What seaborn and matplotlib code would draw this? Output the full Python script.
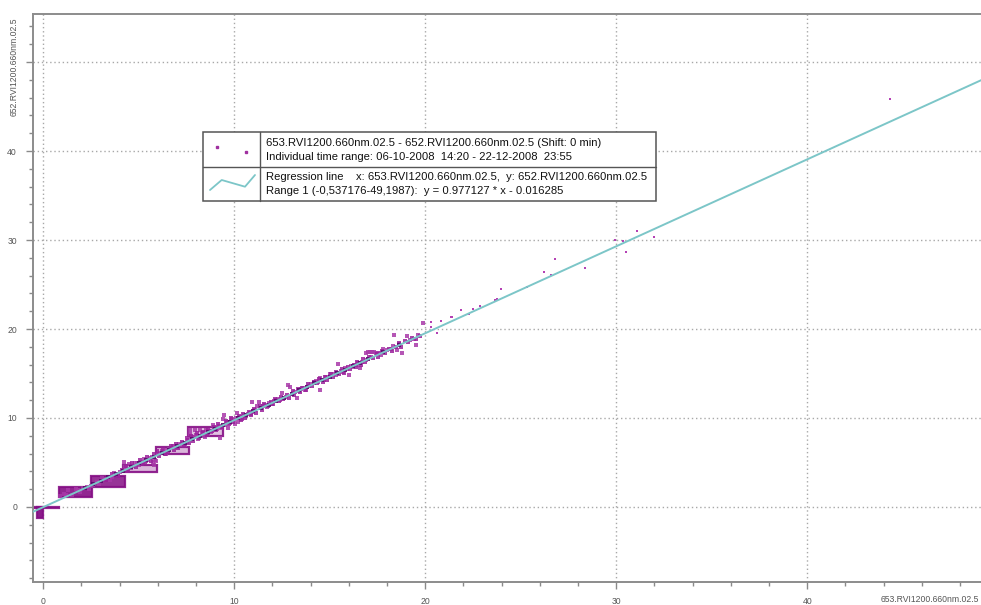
import matplotlib
matplotlib.use("Agg")
import matplotlib.pyplot as plt
from matplotlib.patches import Rectangle
from matplotlib.lines import Line2D
from matplotlib.ticker import MultipleLocator, FixedLocator
import seaborn as sns
import pandas as pd

# ---------------- data ----------------
x_name = "653.RVI1200.660nm.02.5"
y_name = "652.RVI1200.660nm.02.5"

slope = 0.977127
intercept = -0.016285
range_lo = -0.537176
range_hi = 49.1987

# quantised "staircase" blocks of dense points (left, right, low, high)
step_left = [-0.50, -0.35, 0.80, 2.50, 4.20, 5.90, 7.60]
step_right = [0.85, 0.00, 2.55, 4.30, 5.95, 7.65, 9.40]
step_low = [-0.08, -1.20, 1.10, 2.25, 3.90, 6.00, 8.00]
step_high = [0.05, 0.00, 2.30, 3.45, 4.70, 6.75, 9.00]
step_alpha = [0.95, 0.95, 0.9, 0.85, 0.3, 0.3, 0.25]

pts_x = [
    0.9, 1.1, 1.3, 1.5, 1.7, 1.9, 2.1, 2.3, 2.5, 1.2, 1.8, 2.4,
    2.6, 2.8, 3.0, 3.2, 3.4, 3.6, 3.8, 4.0, 4.2, 3.1, 3.5, 3.9, 2.9, 3.7,
    4.25, 4.3, 4.4, 4.5, 4.7, 4.9, 5.0, 5.2, 5.3, 5.5, 5.6, 5.7, 5.8, 5.9,
    4.6, 5.1, 5.4, 5.75, 5.85, 4.8,
    6.0, 6.1, 6.3, 6.4, 6.6, 6.7, 6.9, 7.0, 7.2, 7.3, 7.5, 7.6, 6.2, 6.8,
    7.1, 7.4, 6.5,
    7.7, 7.7, 7.8, 7.9, 8.0, 8.1, 8.3, 8.4, 8.5, 8.7, 8.8, 9.0, 9.1, 9.2,
    9.3, 8.2, 8.6, 8.9, 9.27, 8.45, 7.95,
    9.4, 9.45, 9.5, 9.6, 9.7, 9.8, 9.9, 10.0, 10.1, 10.2, 10.3, 10.5, 10.6,
    10.7, 10.8, 10.9, 11.0, 9.65, 10.15, 10.4, 10.05,
    11.1, 11.2, 11.4, 11.5, 11.6, 11.8, 12.0, 12.1, 12.3, 12.4, 12.5, 12.7,
    12.8, 12.9, 13.1, 13.2, 13.3, 13.5, 13.6, 13.8, 13.9, 11.3, 11.7, 12.2,
    12.6, 13.0, 13.4, 13.7, 10.95,
    14.0, 14.2, 14.3, 14.5, 14.5, 14.7, 14.8, 15.0, 15.0, 15.2, 15.4, 15.43,
    15.6, 15.7, 15.9, 16.0, 16.1, 16.3, 16.4, 16.6, 16.7, 16.9, 14.4, 15.3,
    15.8, 16.2, 16.5,
    16.9, 17.0, 17.1, 17.2, 17.3, 17.4, 17.5, 17.6, 17.8, 18.0, 18.2, 18.3,
    18.34, 18.5, 18.8, 19.04, 19.2, 19.4, 19.53, 19.63, 19.86, 17.15, 17.7,
    18.6,
]
pts_y = [
    1.2, 1.5, 1.9, 1.4, 2.0, 1.7, 2.1, 2.2, 2.4, 1.3, 1.9, 2.0,
    2.5, 2.8, 2.9, 3.1, 3.4, 3.4, 3.7, 3.9, 4.1, 3.3, 3.0, 3.6, 2.6, 3.8,
    5.0, 4.5, 4.3, 4.8, 4.6, 4.9, 4.7, 5.1, 5.4, 5.3, 5.5, 5.6, 4.7, 5.2,
    4.4, 5.0, 5.2, 5.0, 5.3, 4.9,
    5.9, 6.1, 6.2, 6.0, 6.5, 6.6, 6.8, 6.7, 7.0, 7.2, 7.3, 7.5, 6.3, 6.9,
    7.1, 7.0, 6.4,
    8.6, 8.2, 7.8, 7.9, 8.1, 7.6, 8.3, 8.0, 8.6, 8.5, 8.4, 8.9, 8.8, 9.1,
    8.9, 8.7, 8.2, 9.2, 7.75, 7.9, 8.7,
    9.9, 10.3, 9.2, 9.5, 9.6, 9.4, 9.9, 9.8, 10.0, 9.6, 10.1, 10.3, 10.2,
    10.5, 10.6, 10.4, 10.7, 8.9, 10.6, 9.9, 9.3,
    10.9, 11.3, 11.1, 11.4, 11.5, 11.7, 11.6, 11.9, 12.1, 12.0, 12.8, 12.4,
    13.7, 13.45, 12.8, 12.9, 12.2, 13.3, 13.4, 13.5, 13.6, 11.8, 11.2, 12.0,
    12.3, 12.7, 13.0, 13.2, 11.8,
    13.8, 14.0, 14.2, 14.5, 13.2, 14.3, 14.6, 15.0, 14.7, 14.9, 15.1, 16.1,
    15.3, 15.2, 15.5, 14.8, 15.8, 15.9, 16.0, 15.6, 16.3, 16.5, 14.1, 14.8,
    15.6, 15.7, 16.2,
    17.3, 17.45, 17.4, 17.45, 17.4, 17.35, 17.3, 17.3, 17.8, 17.6, 17.8, 18.1,
    19.3, 17.6, 17.3, 19.25, 18.8, 18.9, 18.2, 19.3, 20.7, 16.8, 17.1,
    18.3,
]

# sparse high-value points
far_x = [20.3, 20.3, 20.6, 20.82, 21.36, 21.4, 21.87, 22.27, 22.48, 22.88,
         23.67, 23.75, 23.98, 25.3, 26.2, 26.6, 26.77, 28.38, 29.95, 30.35,
         30.49, 31.08, 32.0, 44.35]
far_y = [20.8, 20.25, 19.5, 20.9, 21.4, 21.3, 22.1, 21.65, 22.2, 22.6,
         23.3, 23.35, 24.45, 24.7, 26.4, 26.07, 27.9, 26.9, 30.0, 29.9,
         28.6, 31.05, 30.3, 45.9]

# points of the dense band around the regression line
band_x = [3.3, 3.6, 3.9, 4.1, 4.35, 4.45, 4.65, 4.85, 5.05, 5.15, 5.35, 5.45,
          5.65, 5.8, 5.95, 6.05, 6.25, 6.35, 6.55, 6.7, 6.85, 6.95, 7.05, 7.25,
          7.35, 7.55, 7.65, 7.75, 7.85, 8.05, 8.15, 8.35, 8.55, 8.65, 8.85,
          8.95, 9.05, 9.15, 9.35, 9.55, 9.75, 9.85, 9.95, 10.25, 10.35, 10.45,
          10.55, 10.75, 10.85, 11.05, 11.15, 11.35, 11.45, 11.55, 11.75, 11.9,
          12.05, 12.15, 12.35, 12.45, 12.55, 12.75, 12.85, 13.05, 13.15, 13.35,
          13.45, 13.55, 13.75, 13.85, 14.05, 14.15, 14.35, 14.45, 14.65, 14.75,
          14.85, 15.05, 15.15, 15.35, 15.5, 15.65, 15.75, 15.95, 16.05, 16.25,
          16.35, 16.45, 16.65, 16.75, 16.85, 17.05, 17.25, 17.45, 17.55, 17.75,
          17.9, 18.1, 18.25, 18.45, 18.65, 18.75, 18.95, 19.1, 19.3, 19.5, 19.7]
band_y = [3.0, 3.7, 3.5, 4.2, 4.6, 4.0, 4.9, 4.5, 5.3, 4.8, 5.0, 5.6,
          5.2, 5.9, 6.3, 5.7, 6.5, 5.9, 6.2, 6.9, 6.4, 7.1, 6.6, 7.3,
          6.9, 7.7, 7.2, 8.0, 7.4, 8.3, 7.8, 8.4, 8.1, 8.7, 8.5,
          9.0, 8.6, 9.3, 9.0, 9.7, 9.3, 10.0, 9.5, 10.2, 9.8, 10.4,
          10.0, 10.7, 10.3, 11.0, 10.6, 11.3, 10.9, 11.6, 11.3, 11.8,
          11.6, 12.1, 11.9, 12.4, 12.1, 12.6, 12.3, 13.0, 12.6, 13.3,
          12.9, 13.4, 13.2, 13.8, 13.6, 14.1, 13.9, 14.4, 14.1, 14.6,
          14.3, 15.0, 14.6, 15.2, 14.9, 15.5, 15.1, 15.7, 15.5, 16.0,
          15.7, 16.3, 16.0, 16.6, 16.3, 16.9, 16.7, 17.2, 16.9, 17.5,
          17.3, 17.8, 17.5, 18.0, 18.4, 18.0, 18.6, 18.5, 19.0, 18.9, 19.2]

# densely overlapping points that sit right on the regression line
dense_x = [2.2, 2.6, 3.0, 3.4, 3.8, 4.2, 4.6, 5.0, 5.4, 5.8, 6.2, 6.6, 7.0,
           7.4, 7.8, 8.2, 8.6, 9.0, 9.4, 9.8, 10.2, 10.6, 11.0, 11.4, 11.8,
           12.2, 12.6, 13.0, 13.4, 13.8, 14.2, 14.6, 15.0, 15.4, 15.8, 16.2,
           16.6, 17.0, 17.8, 18.6]
dense_y = [2.1, 2.55, 2.9, 3.35, 3.7, 4.1, 4.5, 4.9, 5.25, 5.65, 6.05, 6.45,
           6.85, 7.2, 7.6, 8.0, 8.4, 8.8, 9.2, 9.55, 9.95, 10.35, 10.75, 11.15,
           11.5, 11.9, 12.3, 12.7, 13.1, 13.45, 13.9, 14.25, 14.65, 15.05,
           15.45, 15.8, 16.2, 16.6, 17.4, 18.15]

x_major = [0, 10, 20, 30, 40]
y_major = [0, 10, 20, 30, 40, 50]
y_major_labels = ["0", "10", "20", "30", "40", ""]

legend_row1 = [
    "653.RVI1200.660nm.02.5 - 652.RVI1200.660nm.02.5 (Shift: 0 min)",
    "Individual time range: 06-10-2008  14:20 - 22-12-2008  23:55",
]
legend_row2 = [
    "Regression line    x: 653.RVI1200.660nm.02.5,  y: 652.RVI1200.660nm.02.5",
    "Range 1 (-0,537176-49,1987):  y = 0.977127 * x - 0.016285",
]

# ---------------- style ----------------
sns.set_theme(style="white")
plt.rcParams["font.family"] = ["Liberation Sans", "DejaVu Sans"]

W, H = 981, 605
fig = plt.figure(figsize=(W / 100, H / 100), dpi=100)
ax_l, ax_t, ax_b, ax_r = 33, 14, 582, 983
ax = fig.add_axes([ax_l / W, 1 - ax_b / H, (ax_r - ax_l) / W, (ax_b - ax_t) / H])

purple = "#850f85"
teal = "#7cc6c8"

# staircase blocks
for l, r, lo, hi, a in zip(step_left, step_right, step_low, step_high, step_alpha):
    ax.add_patch(Rectangle((l, lo), r - l, hi - lo, facecolor=purple, alpha=a,
                           edgecolor="none", zorder=2))
    ax.add_patch(Rectangle((l, lo), r - l, hi - lo, facecolor="none",
                           edgecolor=purple, linewidth=1.6, alpha=0.9, zorder=2))

df_pts = pd.DataFrame({"x": pts_x, "y": pts_y})
df_far = pd.DataFrame({"x": far_x, "y": far_y})
df_band = pd.DataFrame({"x": band_x, "y": band_y})
df_dense = pd.DataFrame({"x": dense_x, "y": dense_y})
sns.scatterplot(data=df_pts, x="x", y="y", ax=ax, color="#a838a8", s=5,
                marker="s", linewidth=0, alpha=0.85, zorder=3, legend=False)
sns.scatterplot(data=df_far, x="x", y="y", ax=ax, color="#b440b4", s=4.5,
                marker="s", linewidth=0, alpha=1.0, zorder=3, legend=False)
sns.scatterplot(data=df_band, x="x", y="y", ax=ax, color="#9a209a", s=6,
                marker="s", linewidth=0, alpha=0.85, zorder=3, legend=False)
sns.scatterplot(data=df_dense, x="x", y="y", ax=ax, color="#5a0a6a", s=6,
                marker="s", linewidth=0, alpha=0.9, zorder=3, legend=False)

reg_x = [range_lo, range_hi]
reg_y = [slope * v + intercept for v in reg_x]
sns.lineplot(x=reg_x, y=reg_y, ax=ax, color=teal, linewidth=1.4, zorder=4,
             legend=False)

ax.set_xlim(range_lo, range_hi)
ax.set_ylim(-8.43, 55.4)

ax.xaxis.set_major_locator(FixedLocator(x_major))
ax.xaxis.set_minor_locator(MultipleLocator(2))
ax.yaxis.set_major_locator(FixedLocator(y_major))
ax.yaxis.set_minor_locator(MultipleLocator(2))
ax.set_xticklabels([str(v) for v in x_major])
ax.set_yticklabels(y_major_labels)

ax.tick_params(axis="both", which="both", direction="out", colors="#8a8a8a",
               labelcolor="#555555", labelsize=6.2, width=1.0)
ax.tick_params(axis="x", which="major", length=5, pad=6)
ax.tick_params(axis="x", which="minor", length=3)
ax.tick_params(axis="y", which="major", length=5, pad=6.5)
ax.tick_params(axis="y", which="minor", length=3)
ax.tick_params(bottom=True, left=True, which="both")

ax.grid(True, which="major", color="#a8a8a8", linestyle=(0, (1, 2)),
        linewidth=1.0)
ax.set_axisbelow(True)
for side in ["left", "bottom", "top"]:
    ax.spines[side].set_color("#8c8c8c")
    ax.spines[side].set_linewidth(1.4)
ax.spines["right"].set_visible(False)

ax.set_xlabel(x_name, fontsize=6.2, color="#555555", ha="left", va="center")
ax.xaxis.set_label_coords((881 - ax_l) / (ax_r - ax_l), (ax_b - 600) / (ax_b - ax_t))
ax.set_ylabel("")

# ---------------- legend box & y title (figure pixels) ----------------
def fx(px):
    return px / W


def fy(py):
    return 1 - py / H


fig.text(fx(14), fy(17), y_name, rotation=90, fontsize=6.2, color="#555555",
         ha="center", va="top")

bx0, by0, bx1, by1 = 203, 132, 656, 201
div_x, div_y = 260, 166.5
fig.patches.append(Rectangle((fx(bx0), fy(by1)), fx(bx1) - fx(bx0), fy(by0) - fy(by1),
                             transform=fig.transFigure, facecolor="white",
                             edgecolor="#555555", linewidth=1.1, zorder=5))
fig.lines.append(Line2D([fx(bx0), fx(bx1)], [fy(div_y), fy(div_y)],
                        transform=fig.transFigure, color="#555555", linewidth=1.0, zorder=6))
fig.lines.append(Line2D([fx(div_x), fx(div_x)], [fy(by0), fy(by1)],
                        transform=fig.transFigure, color="#555555", linewidth=1.0, zorder=6))
# symbols
fig.lines.append(Line2D([fx(216.7), fx(246)], [fy(146.7), fy(151.7)],
                        transform=fig.transFigure, linestyle="none", marker="s",
                        markersize=1.6, color="#a030a0", zorder=6))
fig.lines.append(Line2D([fx(210), fx(221.7), fx(245), fx(255)],
                        [fy(190), fy(180), fy(186.7), fy(175)],
                        transform=fig.transFigure, color=teal, linewidth=1.3, zorder=6))
# texts
tx = 266.5
for text, py in zip(legend_row1 + legend_row2, [142.5, 156.7, 177.3, 190.7]):
    fig.text(fx(tx), fy(py), text, fontsize=8.15, color="#111111", ha="left",
             va="center", zorder=7)

fig.savefig("out.png", dpi=100)
